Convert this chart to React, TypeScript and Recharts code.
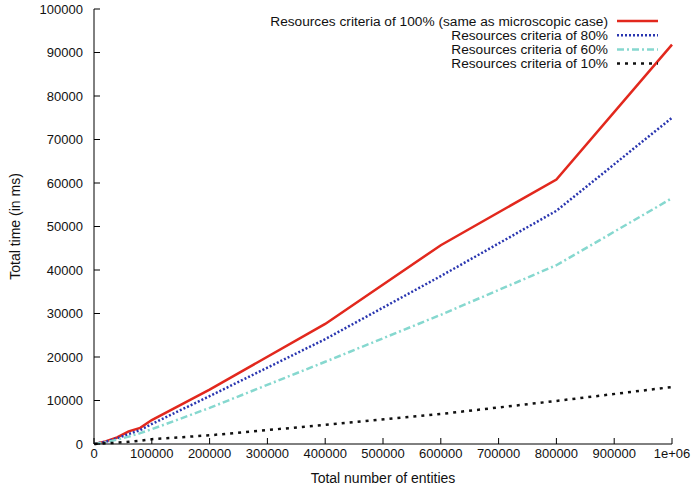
import { LineChart, Line, XAxis, YAxis, Legend } from "recharts";

// measured points: number of entities -> total time (ms)
const entities = [1000, 20000, 40000, 60000, 80000, 100000, 200000, 400000, 600000, 800000, 1000000];
const crit100 = [20, 600, 1500, 2900, 3700, 5500, 12500, 27600, 45700, 60800, 91800];
const crit80 = [15, 500, 1300, 2300, 3200, 4600, 11000, 24100, 38600, 53600, 75000];
const crit60 = [10, 400, 1000, 1700, 2500, 3400, 8300, 18900, 29700, 41100, 56500];
const crit10 = [5, 150, 300, 500, 750, 1100, 2000, 4400, 6900, 9900, 13100];

const xTicks = [0, 100000, 200000, 300000, 400000, 500000, 600000, 700000, 800000, 900000, 1000000];
const yTicks = [0, 10000, 20000, 30000, 40000, 50000, 60000, 70000, 80000, 90000, 100000];

const data = entities.map((n, i) => ({
  n,
  c100: crit100[i],
  c80: crit80[i],
  c60: crit60[i],
  c10: crit10[i],
}));

const SERIES = [
  { key: "c100", name: "Resources criteria of 100% (same as microscopic case)", color: "#e2281d", dash: undefined, width: 2.5 },
  { key: "c80", name: "Resources criteria of 80%", color: "#2a36b0", dash: "2 2", width: 2.5 },
  { key: "c60", name: "Resources criteria of 60%", color: "#86d8cf", dash: "7 3 2 3", width: 2.5 },
  { key: "c10", name: "Resources criteria of 10%", color: "#111111", dash: "3 5", width: 2.5 },
];

const FONT = "'Liberation Sans', Arial, Helvetica, sans-serif";

const fmtX = (v: number) => (v === 1000000 ? "1e+06" : String(v));

const KeyBox = () => (
  <svg width={695} height={70} style={{ display: "block" }}>
    {SERIES.map((s, i) => {
      const y = 12 + i * 14.2;
      return (
        <g key={s.key}>
          <text x={608} y={y} textAnchor="end" dominantBaseline="central" fontSize={13.7} fontFamily={FONT} fill="#111">
            {s.name}
          </text>
          <line x1={617} x2={658} y1={y} y2={y} stroke={s.color} strokeWidth={s.width} strokeDasharray={s.dash} />
        </g>
      );
    })}
  </svg>
);

export default function App() {
  return (
    <div style={{ position: "absolute", left: 0, top: 0, background: "#fff" }}>
      <LineChart width={695} height={490} data={data} margin={{ top: 9, right: 23, bottom: 0, left: 0 }}>
        <XAxis
          xAxisId="bottom"
          dataKey="n"
          type="number"
          domain={[0, 1000000]}
          ticks={xTicks}
          tickFormatter={fmtX}
          height={46}
          tickSize={-6}
          tickMargin={11}
          axisLine={{ stroke: "#000" }}
          tickLine={{ stroke: "#000" }}
          tick={{ fill: "#111", fontSize: 13, fontFamily: FONT }}
          interval={0}
          label={{ value: "Total number of entities", position: "insideBottom", offset: 7, fill: "#111", fontSize: 14, fontFamily: FONT }}
        />
        <XAxis
          xAxisId="top"
          orientation="top"
          dataKey="n"
          type="number"
          domain={[0, 1000000]}
          ticks={xTicks}
          height={0}
          tickSize={-6}
          tick={false}
          axisLine={{ stroke: "#000" }}
          tickLine={{ stroke: "#000" }}
        />
        <YAxis
          yAxisId="left"
          type="number"
          domain={[0, 100000]}
          ticks={yTicks}
          width={94}
          tickSize={-6}
          tickMargin={17}
          interval={0}
          axisLine={{ stroke: "#000" }}
          tickLine={{ stroke: "#000" }}
          tick={{ fill: "#111", fontSize: 13, fontFamily: FONT }}
          label={{
            content: (p: any) => {
              const vb = p.viewBox || {};
              const cy = (vb.y || 0) + (vb.height || 0) / 2;
              return (
                <text x={15} y={cy} transform={`rotate(-90, 15, ${cy})`} textAnchor="middle" dominantBaseline="central" fontSize={14} fontFamily={FONT} fill="#111">
                  Total time (in ms)
                </text>
              );
            },
          }}
        />
        <YAxis
          yAxisId="right"
          orientation="right"
          type="number"
          domain={[0, 100000]}
          ticks={yTicks}
          width={0}
          tickSize={-6}
          tick={false}
          axisLine={{ stroke: "#000" }}
          tickLine={{ stroke: "#000" }}
        />
        <Legend
          layout="vertical"
          align="center"
          verticalAlign="middle"
          content={() => <KeyBox />}
          wrapperStyle={{ left: 0, top: 9, width: 695, height: 70 }}
        />
        {SERIES.map((s) => (
          <Line
            key={s.key}
            xAxisId="bottom"
            yAxisId="left"
            type="linear"
            dataKey={s.key}
            name={s.name}
            stroke={s.color}
            strokeWidth={s.width}
            strokeDasharray={s.dash}
            dot={false}
            activeDot={false}
            isAnimationActive={false}
          />
        ))}
      </LineChart>
    </div>
  );
}
